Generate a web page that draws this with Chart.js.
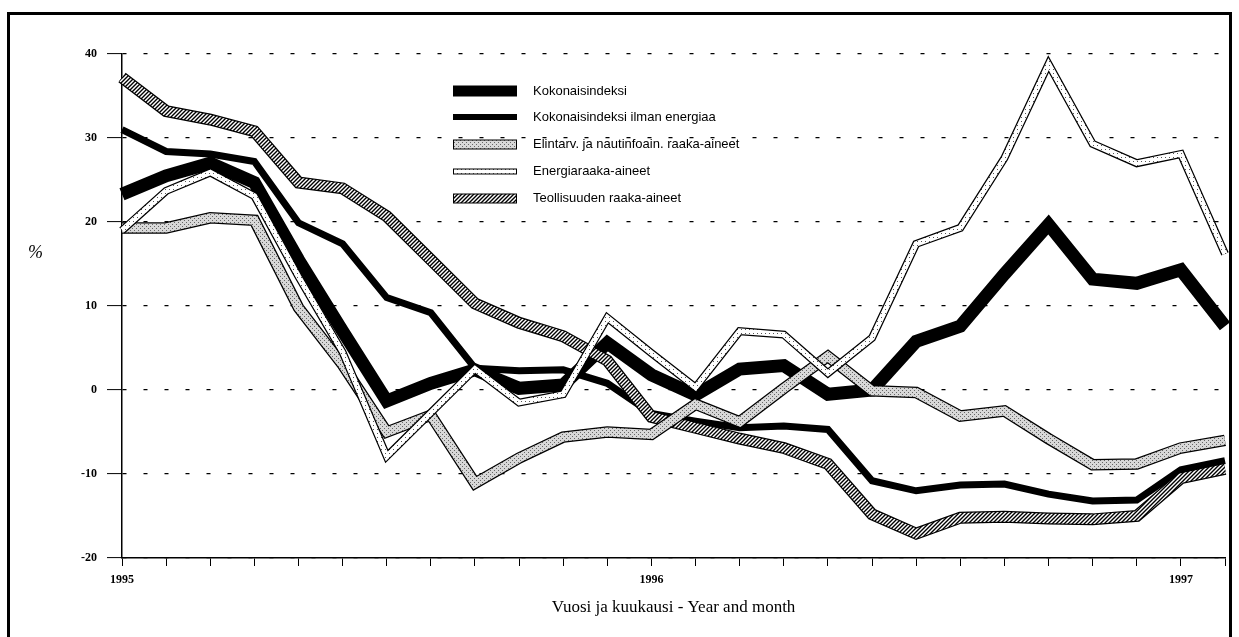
<!DOCTYPE html>
<html>
<head>
<meta charset="utf-8">
<script src="https://cdn.jsdelivr.net/npm/chart.js@4"></script>
<style>
  html, body { margin: 0; padding: 0; background: #fff; }
</style>
</head>
<body>
<canvas id="myChart" width="1239" height="637"></canvas>
<script>
// months Jan 1995 .. Feb 1997
const months = ['1995-01','1995-02','1995-03','1995-04','1995-05','1995-06','1995-07','1995-08','1995-09','1995-10','1995-11','1995-12',
  '1996-01','1996-02','1996-03','1996-04','1996-05','1996-06','1996-07','1996-08','1996-09','1996-10','1996-11','1996-12',
  '1997-01','1997-02'];

const kokonais = [23.3, 25.5, 27.0, 24.7, 15.5, 7.0, -1.3, 0.8, 2.4, 0.2, 0.6, 5.6,
  1.8, -0.6, 2.5, 2.9, -0.5, 0.0, 5.8, 7.6, 13.8, 19.7, 13.2, 12.7, 14.3, 7.6];
const ilmanEnergiaa = [31.0, 28.4, 28.1, 27.2, 19.9, 17.4, 11.0, 9.2, 2.6, 2.3, 2.4, 0.8,
  -2.8, -3.7, -4.5, -4.3, -4.7, -10.8, -12.0, -11.3, -11.2, -12.4, -13.2, -13.1, -9.5, -8.4];
const elintarvikkeet = [19.3, 19.3, 20.5, 20.2, 9.8, 3.0, -5.0, -3.0, -11.1, -8.1, -5.6, -5.0,
  -5.3, -1.7, -3.8, 0.2, 4.0, -0.1, -0.3, -3.1, -2.5, -5.8, -8.9, -8.8, -6.9, -6.0];
const energia = [19.0, 23.7, 25.9, 23.1, 13.5, 4.5, -7.9, -2.7, 2.5, -1.5, -0.5, 8.6,
  4.4, 0.3, 7.0, 6.6, 2.0, 6.2, 17.4, 19.3, 27.6, 38.8, 29.3, 27.0, 28.1, 16.2];
const teollisuus = [37.2, 33.2, 32.2, 30.8, 24.7, 24.0, 20.7, 15.5, 10.3, 8.0, 6.4, 3.5,
  -3.2, -4.5, -5.8, -6.9, -8.8, -14.8, -17.1, -15.2, -15.1, -15.3, -15.4, -15.0, -10.5, -9.4];

const seriesNames = ['Kokonaisindeksi', 'Kokonaisindeksi ilman energiaa',
  'Elintarv. ja nautinfoain. raaka-aineet', 'Energiaraaka-aineet', 'Teollisuuden raaka-aineet'];

// fill patterns for the banded lines
function makePattern(kind) {
  const c = document.createElement('canvas');
  const g = c.getContext('2d');
  if (kind === 'stipple') {
    c.width = 4; c.height = 4;
    g.fillStyle = '#d8d8d8'; g.fillRect(0, 0, 4, 4);
    g.fillStyle = '#666';
    g.fillRect(0, 0, 1, 1); g.fillRect(2, 2, 1, 1);
  } else if (kind === 'dots') {
    c.width = 4; c.height = 4;
    g.fillStyle = '#fff'; g.fillRect(0, 0, 4, 4);
    g.fillStyle = '#555'; g.fillRect(1, 1, 1, 1);
  } else {
    c.width = 4; c.height = 4;
    g.fillStyle = '#fff'; g.fillRect(0, 0, 4, 4);
    g.strokeStyle = '#000'; g.lineWidth = 1.4;
    g.beginPath();
    g.moveTo(-1, 5); g.lineTo(5, -1);
    g.moveTo(-1, 1); g.lineTo(1, -1);
    g.moveTo(3, 5); g.lineTo(5, 3);
    g.stroke();
  }
  return g.createPattern(c, 'repeat');
}

const stipple = makePattern('stipple');
const dots = makePattern('dots');
const hatch = makePattern('hatch');

// black edge under the patterned lines
const outline = {
  id: 'outline',
  beforeDatasetDraw(chart, args) {
    const ds = chart.data.datasets[args.index];
    if (!ds.outlineWidth) return;
    const ctx = chart.ctx;
    ctx.save();
    ctx.lineWidth = ds.outlineWidth;
    ctx.strokeStyle = '#000';
    ctx.lineJoin = 'miter';
    ctx.beginPath();
    args.meta.data.forEach((p, i) => i ? ctx.lineTo(p.x, p.y) : ctx.moveTo(p.x, p.y));
    ctx.stroke();
    ctx.restore();
  }
};

// legend inside the plot, frame and % label
const boxLegend = {
  id: 'boxLegend',
  afterDraw(chart) {
    const ctx = chart.ctx;
    const boxes = [[91, 11], [117, 6], [144.5, 9], [171.5, 5], [198.5, 9]];
    ctx.save();
    chart.data.datasets.forEach((ds, i) => {
      const [cy, h] = boxes[i];
      ctx.fillStyle = ds.borderColor;
      ctx.fillRect(453, cy - h / 2, 64, h);
      if (ds.outlineWidth) {
        ctx.strokeStyle = '#000';
        ctx.lineWidth = 1;
        ctx.strokeRect(453.5, cy - h / 2, 63, h);
      }
      ctx.fillStyle = '#000';
      ctx.font = '13px "Liberation Sans", Arial, sans-serif';
      ctx.textBaseline = 'middle';
      ctx.textAlign = 'left';
      ctx.fillText(ds.label, 533, cy);
    });

    ctx.font = 'italic 18px "Liberation Serif", serif';
    ctx.textBaseline = 'alphabetic';
    ctx.fillText('%', 28, 258);

    ctx.lineWidth = 3;
    ctx.strokeStyle = '#000';
    ctx.strokeRect(8.5, 13.5, 1222, 700);
    ctx.restore();
  }
};

const data = {
  labels: months,
  datasets: [
    { label: seriesNames[0], data: kokonais, borderColor: '#000', borderWidth: 13, order: 8 },
    { label: seriesNames[1], data: ilmanEnergiaa, borderColor: '#000', borderWidth: 7, order: 7 },
    { label: seriesNames[2], data: elintarvikkeet, borderColor: stipple, borderWidth: 9, outlineWidth: 11.5, order: 4 },
    { label: seriesNames[3], data: energia, borderColor: dots, borderWidth: 5.5, outlineWidth: 8, order: 2 },
    { label: seriesNames[4], data: teollisuus, borderColor: hatch, borderWidth: 9.5, outlineWidth: 12, order: 6 }
  ]
};

const config = {
  type: 'line',
  data,
  options: {
    responsive: false,
    animation: false,
    events: [],
    layout: { padding: { left: 0, top: 54, right: 14, bottom: 0 } },
    elements: {
      point: { radius: 0 },
      line: { tension: 0, borderJoinStyle: 'miter', borderCapStyle: 'butt', fill: false }
    },
    scales: {
      x: {
        offset: false,
        grid: { drawOnChartArea: false, drawTicks: true, tickLength: 8, tickColor: '#000', tickWidth: 1 },
        border: { display: true, color: '#000', width: 1.5 },
        ticks: {
          autoSkip: false, maxRotation: 0, padding: 7, color: '#000',
          font: { family: '"Liberation Serif", serif', size: 12, weight: 'bold' },
          callback: (value, index) => months[index].endsWith('-01') ? months[index].substring(0, 4) : ''
        },
        title: {
          display: true, text: 'Vuosi ja kuukausi - Year and month', color: '#000',
          font: { family: '"Liberation Serif", serif', size: 17 },
          padding: { top: 4, bottom: 19 }
        },
        afterFit: (scale) => { scale.height = 79; }
      },
      y: {
        min: -20, max: 40,
        grid: { color: '#000', lineWidth: 1.2, drawTicks: true, tickLength: 15, tickColor: '#000', tickWidth: 1, tickBorderDash: [] },
        border: { display: true, color: '#000', width: 1.5, dash: [4, 17] },
        ticks: {
          stepSize: 10, padding: 10, color: '#000',
          font: { family: '"Liberation Serif", serif', size: 12, weight: 'bold' }
        },
        afterFit: (scale) => { scale.width = 122; }
      }
    },
    plugins: {
      legend: { display: false },
      tooltip: { enabled: false }
    }
  },
  plugins: [outline, boxLegend]
};

const myChart = new Chart(document.getElementById('myChart'), config);
</script>
</body>
</html>
